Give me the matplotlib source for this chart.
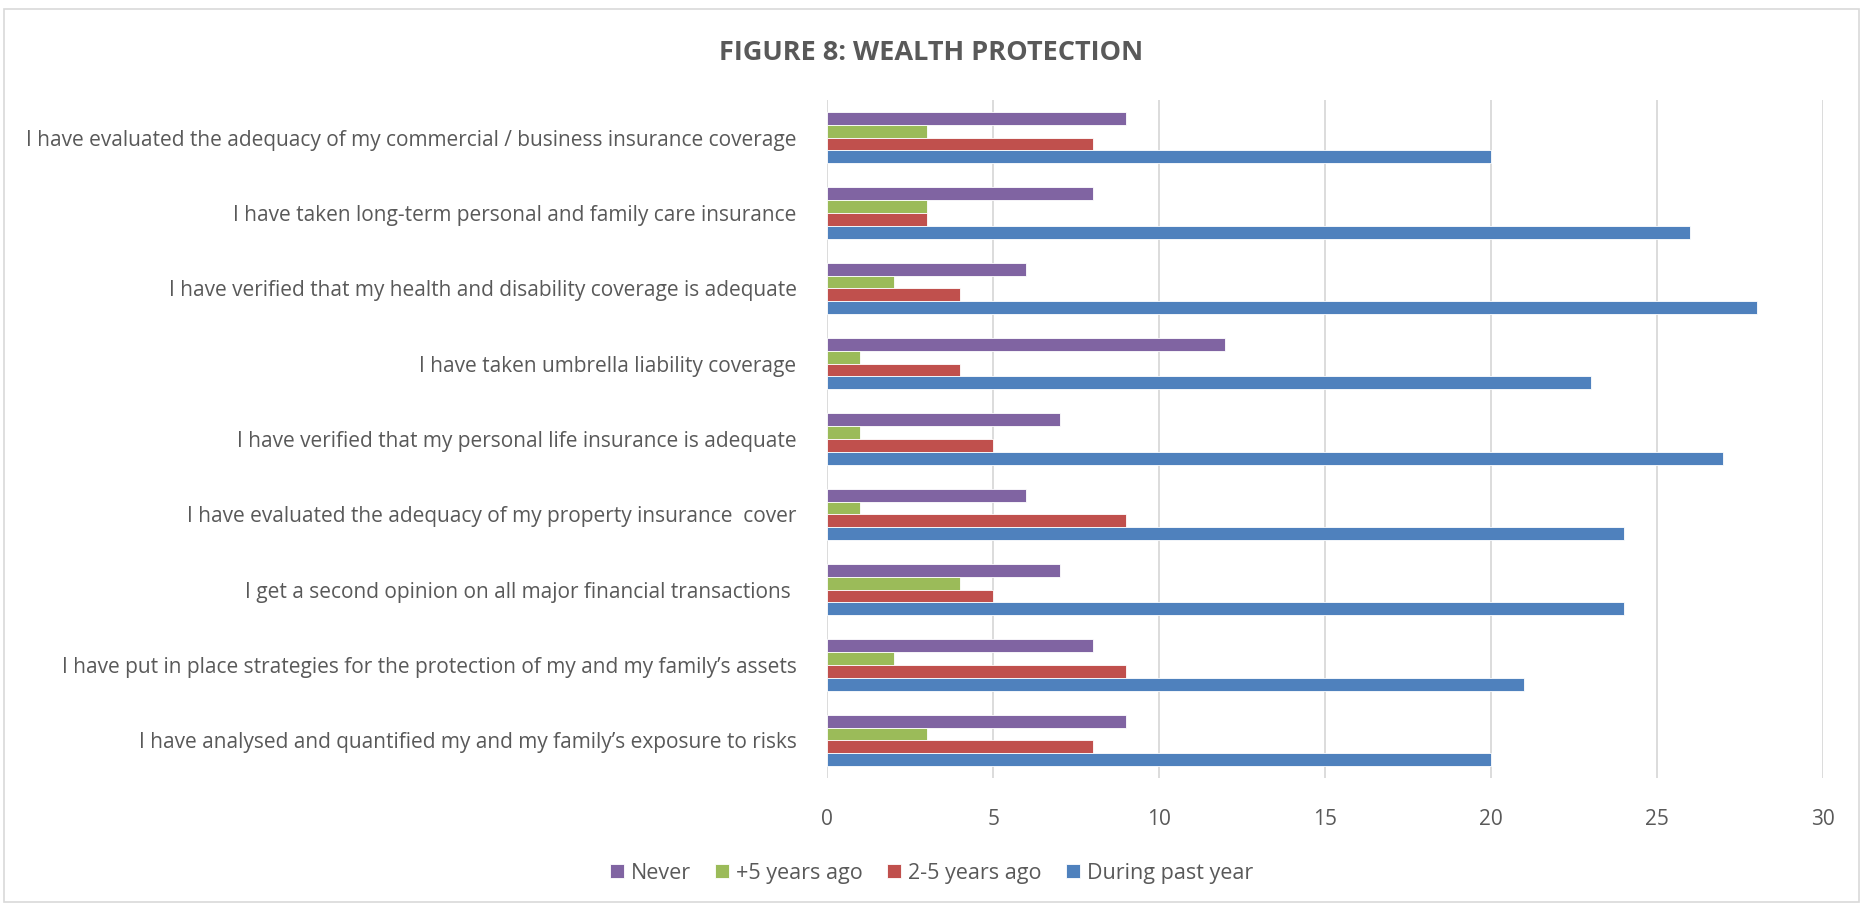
import numpy as np
import matplotlib
matplotlib.use('Agg')
from matplotlib import pyplot as plt
from matplotlib.patches import Rectangle

# categories listed top to bottom as in the chart
categories = [
  'I have evaluated the adequacy of my commercial / business insurance coverage',
  'I have taken long-term personal and family care insurance',
  'I have verified that my health and disability coverage is adequate',
  'I have taken umbrella liability coverage',
  'I have verified that my personal life insurance is adequate',
  'I have evaluated the adequacy of my property insurance  cover',
  'I get a second opinion on all major financial transactions ',
  'I have put in place strategies for the protection of my and my family\u2019s assets',
  'I have analysed and quantified my and my family\u2019s exposure to risks',
]
never = [9, 8, 6, 12, 7, 6, 7, 8, 9]
plus5 = [3, 3, 2, 1, 1, 1, 4, 2, 3]
two_five = [8, 3, 4, 4, 5, 9, 5, 9, 8]
past_year = [20, 26, 28, 23, 27, 24, 24, 21, 20]

series = [
  ('Never', never, '#8064A2'),
  ('+5 years ago', plus5, '#9BBB59'),
  ('2-5 years ago', two_five, '#C0504D'),
  ('During past year', past_year, '#4F81BD'),
]

plt.rcParams['font.family'] = ['Open Sans', 'DejaVu Sans']
txt = '#595959'

fig = plt.figure(figsize=(18.63, 9.05), dpi=100)
ax = fig.add_axes([0.444, 0.1403, 0.5345, 0.7492])

y = np.arange(len(categories))
h = 0.17
for i, (name, vals, col) in enumerate(series):
  ax.barh(y + (i - 1.5) * h, vals, height=h, color=col, label=name,
          edgecolor='white', linewidth=0.6)

ax.set_ylim(len(categories) - 0.5, -0.5)
ax.set_xlim(0, 30)
ax.set_xticks(range(0, 31, 5))
ax.set_yticks(y)
ax.set_yticklabels(categories)
ax.tick_params(axis='both', length=0, labelsize=15, colors=txt)
ax.tick_params(axis='y', pad=22)
ax.tick_params(axis='x', pad=22)
ax.grid(axis='x', color='#d9d9d9', linewidth=1.3)
ax.set_axisbelow(True)
for s in ax.spines.values():
  s.set_visible(False)

fig.text(0.5, 0.941, 'FIGURE 8: WEALTH PROTECTION', ha='center', va='center',
         fontsize=19.5, fontweight='bold', color=txt)

leg = fig.legend(loc='center', bbox_to_anchor=(0.5, 0.035), ncol=4, frameon=False,
                 fontsize=15.5, handlelength=0.65, handleheight=0.65,
                 columnspacing=1.1, handletextpad=0.35)
for t in leg.get_texts():
  t.set_color(txt)

fig.patches.append(Rectangle((0.002, 0.003), 0.996, 0.987, transform=fig.transFigure,
                             fill=False, edgecolor='#d9d9d9', linewidth=1.2))

fig.savefig('out.png', dpi=100)
